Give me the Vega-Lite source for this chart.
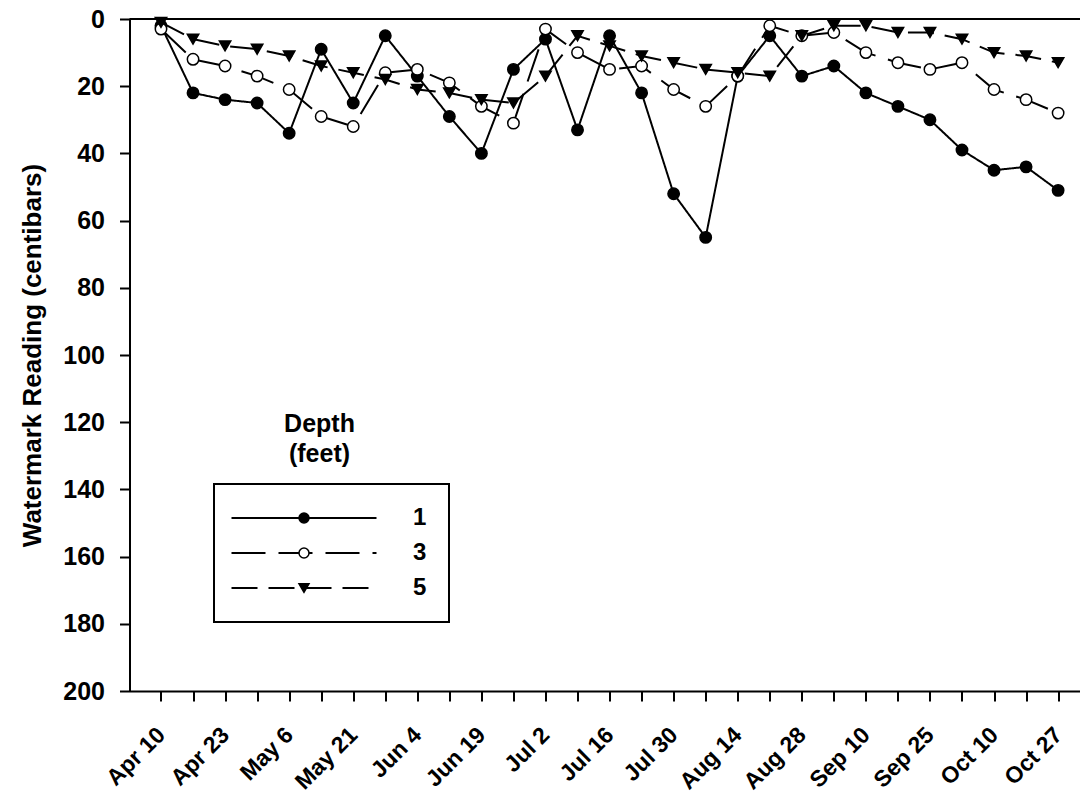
{
  "$schema": "https://vega.github.io/schema/vega-lite/v6.json",
  "width": 950.5,
  "height": 672,
  "autosize": {"type": "none"},
  "padding": {"left": 129.5, "top": 19, "right": 0, "bottom": 102},
  "background": "white",
  "title": {
    "text": ["Depth", "(feet)"],
    "anchor": "start",
    "frame": "group",
    "orient": "top",
    "align": "center",
    "baseline": "alphabetic",
    "offset": 0,
    "dx": 190,
    "dy": 480,
    "lineHeight": 30,
    "fontSize": 25,
    "fontWeight": "bold",
    "font": "Liberation Sans",
    "color": "black"
  },
  "data": {
    "values": [
      {"date": "Apr 10", "depth": "1", "reading": 2},
      {"date": "Apr 16", "depth": "1", "reading": 22},
      {"date": "Apr 23", "depth": "1", "reading": 24},
      {"date": "Apr 30", "depth": "1", "reading": 25},
      {"date": "May 6", "depth": "1", "reading": 34},
      {"date": "May 13", "depth": "1", "reading": 9},
      {"date": "May 21", "depth": "1", "reading": 25},
      {"date": "May 28", "depth": "1", "reading": 5},
      {"date": "Jun 4", "depth": "1", "reading": 17},
      {"date": "Jun 11", "depth": "1", "reading": 29},
      {"date": "Jun 19", "depth": "1", "reading": 40},
      {"date": "Jun 25", "depth": "1", "reading": 15},
      {"date": "Jul 2", "depth": "1", "reading": 6},
      {"date": "Jul 9", "depth": "1", "reading": 33},
      {"date": "Jul 16", "depth": "1", "reading": 5},
      {"date": "Jul 23", "depth": "1", "reading": 22},
      {"date": "Jul 30", "depth": "1", "reading": 52},
      {"date": "Aug 7", "depth": "1", "reading": 65},
      {"date": "Aug 14", "depth": "1", "reading": 17},
      {"date": "Aug 21", "depth": "1", "reading": 5},
      {"date": "Aug 28", "depth": "1", "reading": 17},
      {"date": "Sep 3", "depth": "1", "reading": 14},
      {"date": "Sep 10", "depth": "1", "reading": 22},
      {"date": "Sep 17", "depth": "1", "reading": 26},
      {"date": "Sep 25", "depth": "1", "reading": 30},
      {"date": "Oct 2", "depth": "1", "reading": 39},
      {"date": "Oct 10", "depth": "1", "reading": 45},
      {"date": "Oct 18", "depth": "1", "reading": 44},
      {"date": "Oct 27", "depth": "1", "reading": 51},
      {"date": "Apr 10", "depth": "3", "reading": 3},
      {"date": "Apr 16", "depth": "3", "reading": 12},
      {"date": "Apr 23", "depth": "3", "reading": 14},
      {"date": "Apr 30", "depth": "3", "reading": 17},
      {"date": "May 6", "depth": "3", "reading": 21},
      {"date": "May 13", "depth": "3", "reading": 29},
      {"date": "May 21", "depth": "3", "reading": 32},
      {"date": "May 28", "depth": "3", "reading": 16},
      {"date": "Jun 4", "depth": "3", "reading": 15},
      {"date": "Jun 11", "depth": "3", "reading": 19},
      {"date": "Jun 19", "depth": "3", "reading": 26},
      {"date": "Jun 25", "depth": "3", "reading": 31},
      {"date": "Jul 2", "depth": "3", "reading": 3},
      {"date": "Jul 9", "depth": "3", "reading": 10},
      {"date": "Jul 16", "depth": "3", "reading": 15},
      {"date": "Jul 23", "depth": "3", "reading": 14},
      {"date": "Jul 30", "depth": "3", "reading": 21},
      {"date": "Aug 7", "depth": "3", "reading": 26},
      {"date": "Aug 14", "depth": "3", "reading": 17},
      {"date": "Aug 21", "depth": "3", "reading": 2},
      {"date": "Aug 28", "depth": "3", "reading": 5},
      {"date": "Sep 3", "depth": "3", "reading": 4},
      {"date": "Sep 10", "depth": "3", "reading": 10},
      {"date": "Sep 17", "depth": "3", "reading": 13},
      {"date": "Sep 25", "depth": "3", "reading": 15},
      {"date": "Oct 2", "depth": "3", "reading": 13},
      {"date": "Oct 10", "depth": "3", "reading": 21},
      {"date": "Oct 18", "depth": "3", "reading": 24},
      {"date": "Oct 27", "depth": "3", "reading": 28},
      {"date": "Apr 10", "depth": "5", "reading": 1},
      {"date": "Apr 16", "depth": "5", "reading": 6},
      {"date": "Apr 23", "depth": "5", "reading": 8},
      {"date": "Apr 30", "depth": "5", "reading": 9},
      {"date": "May 6", "depth": "5", "reading": 11},
      {"date": "May 13", "depth": "5", "reading": 14},
      {"date": "May 21", "depth": "5", "reading": 16},
      {"date": "May 28", "depth": "5", "reading": 18},
      {"date": "Jun 4", "depth": "5", "reading": 21},
      {"date": "Jun 11", "depth": "5", "reading": 22},
      {"date": "Jun 19", "depth": "5", "reading": 24},
      {"date": "Jun 25", "depth": "5", "reading": 25},
      {"date": "Jul 2", "depth": "5", "reading": 17},
      {"date": "Jul 9", "depth": "5", "reading": 5},
      {"date": "Jul 16", "depth": "5", "reading": 8},
      {"date": "Jul 23", "depth": "5", "reading": 11},
      {"date": "Jul 30", "depth": "5", "reading": 13},
      {"date": "Aug 7", "depth": "5", "reading": 15},
      {"date": "Aug 14", "depth": "5", "reading": 16},
      {"date": "Aug 21", "depth": "5", "reading": 17},
      {"date": "Aug 28", "depth": "5", "reading": 5},
      {"date": "Sep 3", "depth": "5", "reading": 2},
      {"date": "Sep 10", "depth": "5", "reading": 2},
      {"date": "Sep 17", "depth": "5", "reading": 4},
      {"date": "Sep 25", "depth": "5", "reading": 4},
      {"date": "Oct 2", "depth": "5", "reading": 6},
      {"date": "Oct 10", "depth": "5", "reading": 10},
      {"date": "Oct 18", "depth": "5", "reading": 11},
      {"date": "Oct 27", "depth": "5", "reading": 13}
    ]
  },
  "layer": [
    {
      "data": {"values": [{}]},
      "mark": {"type": "rule", "color": "black", "strokeWidth": 2},
      "encoding": {"y": {"datum": 0, "type": "quantitative"}}
    },
    {
      "mark": {"type": "line", "color": "black", "strokeWidth": 2},
      "encoding": {
        "x": {
          "field": "date",
          "type": "ordinal",
          "sort": ["Apr 10","Apr 16","Apr 23","Apr 30","May 6","May 13","May 21","May 28","Jun 4","Jun 11","Jun 19","Jun 25","Jul 2","Jul 9","Jul 16","Jul 23","Jul 30","Aug 7","Aug 14","Aug 21","Aug 28","Sep 3","Sep 10","Sep 17","Sep 25","Oct 2","Oct 10","Oct 18","Oct 27"],
          "scale": {"type": "point", "padding": 0.833, "align": 0.59, "round": false},
          "axis": {
            "title": null,
            "labelAngle": -45,
            "labelAlign": "right",
            "labelBaseline": "middle",
            "labelFontSize": 23,
            "labelFontWeight": "bold",
            "labelFont": "Liberation Sans",
            "labelColor": "black",
            "labelPadding": 30,
            "labelOverlap": false,
            "labelExpr": "indexof(['Apr 10','Apr 23','May 6','May 21','Jun 4','Jun 19','Jul 2','Jul 16','Jul 30','Aug 14','Aug 28','Sep 10','Sep 25','Oct 10','Oct 27'], datum.label) >= 0 ? datum.label : ''",
            "tickSize": 10,
            "tickWidth": 2,
            "tickColor": "black",
            "domainColor": "black",
            "domainWidth": 2,
            "grid": false
          }
        },
        "y": {
          "field": "reading",
          "type": "quantitative",
          "scale": {"domain": [0, 200], "reverse": true, "nice": false},
          "axis": {
            "title": "Watermark Reading (centibars)",
            "titleFontSize": 26,
            "titleFontWeight": "bold",
            "titleFont": "Liberation Sans",
            "titleColor": "black",
            "titlePadding": 17,
            "values": [0, 20, 40, 60, 80, 100, 120, 140, 160, 180, 200],
            "labelFontSize": 25,
            "labelFontWeight": "bold",
            "labelFont": "Liberation Sans",
            "labelColor": "black",
            "labelPadding": 15,
            "tickSize": 10,
            "tickWidth": 2,
            "tickColor": "black",
            "domainColor": "black",
            "domainWidth": 2,
            "grid": false
          }
        },
        "strokeDash": {
          "field": "depth",
          "type": "nominal",
          "scale": {"domain": ["1", "3", "5"], "range": [[1, 0], [34, 13], [26, 11]]},
          "legend": {
            "orient": "none",
            "legendX": 84.5,
            "legendY": 465,
            "direction": "vertical",
            "columns": 1,
            "title": null,
            "symbolType": "M-14.5,0H14.5",
            "symbolSize": 100,
            "symbolStrokeWidth": 2,
            "symbolStrokeColor": "black",
            "symbolOffset": 56,
            "labelFontSize": 24,
            "labelFontWeight": "bold",
            "labelFont": "Liberation Sans",
            "labelColor": "black",
            "labelOffset": 97,
            "padding": 22,
            "rowPadding": 11,
            "strokeColor": "black"
          }
        }
      }
    },
    {
      "mark": {"type": "point", "filled": true, "size": 130, "stroke": "black", "strokeWidth": 1.5, "opacity": 1},
      "encoding": {
        "x": {
          "field": "date",
          "type": "ordinal",
          "sort": ["Apr 10","Apr 16","Apr 23","Apr 30","May 6","May 13","May 21","May 28","Jun 4","Jun 11","Jun 19","Jun 25","Jul 2","Jul 9","Jul 16","Jul 23","Jul 30","Aug 7","Aug 14","Aug 21","Aug 28","Sep 3","Sep 10","Sep 17","Sep 25","Oct 2","Oct 10","Oct 18","Oct 27"]
        },
        "y": {"field": "reading", "type": "quantitative"},
        "shape": {
          "field": "depth",
          "type": "nominal",
          "scale": {"range": ["circle", "circle", "triangle-down"]},
          "legend": {
            "orient": "none",
            "legendX": 84.5,
            "legendY": 465,
            "direction": "vertical",
            "columns": 1,
            "title": null,
            "symbolSize": 100,
            "symbolStrokeWidth": 1.5,
            "symbolStrokeColor": "black",
            "symbolFillColor": "black",
            "symbolOffset": 56,
            "labelFontSize": 24,
            "labelFontWeight": "bold",
            "labelFont": "Liberation Sans",
            "labelOffset": 97,
            "labelOpacity": 0,
            "padding": 22,
            "rowPadding": 11
          }
        },
        "fill": {
          "field": "depth",
          "type": "nominal",
          "scale": {"range": ["black", "white", "black"]},
          "legend": {
            "orient": "none",
            "legendX": 84.5,
            "legendY": 465,
            "direction": "vertical",
            "columns": 1,
            "title": null,
            "symbolSize": 100,
            "symbolStrokeWidth": 1.5,
            "symbolStrokeColor": "black",
            "symbolFillColor": "black",
            "symbolOffset": 56,
            "labelFontSize": 24,
            "labelFontWeight": "bold",
            "labelFont": "Liberation Sans",
            "labelOffset": 97,
            "labelOpacity": 0,
            "padding": 22,
            "rowPadding": 11
          }
        }
      }
    }
  ],
  "config": {
    "view": {"stroke": null},
    "font": "Liberation Sans",
    "legend": {"strokeWidth": 2}
  }
}
